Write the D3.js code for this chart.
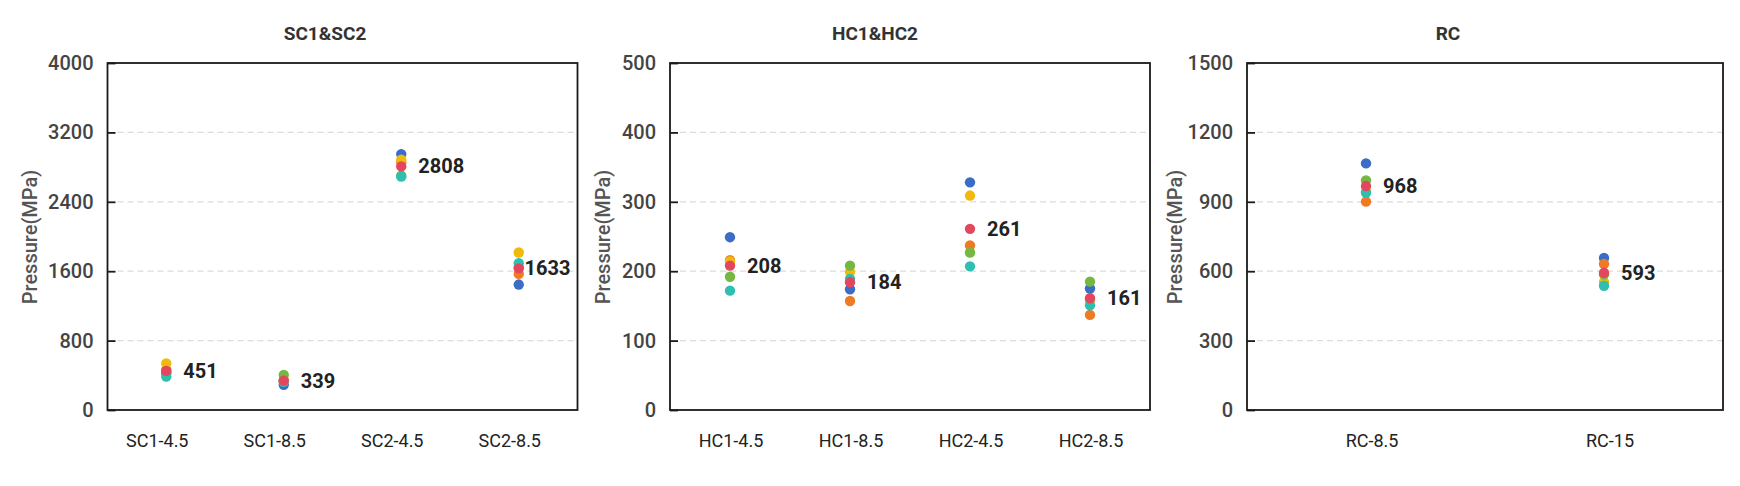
<!DOCTYPE html>
<html>
<head>
<meta charset="utf-8">
<script src="https://cdn.jsdelivr.net/npm/d3@7"></script>
<style>
  body { margin: 0; background: #fff; }
  svg { display: block; font-family: Roboto, "Noto Sans", sans-serif; }
</style>
</head>
<body>
<script>
// --- data ---
var scCategories = ['SC1-4.5', 'SC1-8.5', 'SC2-4.5', 'SC2-8.5'];
var scBlue   = [425, 290, 2950, 1446];
var scOrange = [465, 345, 2855, 1569];
var scYellow = [538, 330, 2885, 1815];
var scGreen  = [442, 404, 2700, 1643];
var scTeal   = [385, 326, 2690, 1692];
var scAvg    = [451, 339, 2808, 1633];
var scTicks  = [0, 800, 1600, 2400, 3200, 4000];

var hcCategories = ['HC1-4.5', 'HC1-8.5', 'HC2-4.5', 'HC2-8.5'];
var hcBlue   = [249, 174, 328, 175];
var hcOrange = [216, 157, 237, 137];
var hcYellow = [214, 199, 309, 158];
var hcGreen  = [192, 208, 227, 185];
var hcTeal   = [172, 189, 207, 151];
var hcAvg    = [208, 184, 261, 161];
var hcTicks  = [0, 100, 200, 300, 400, 500];

var rcCategories = ['RC-8.5', 'RC-15'];
var rcBlue   = [1066, 657];
var rcOrange = [901, 631];
var rcYellow = [945, 554];
var rcGreen  = [992, 586];
var rcTeal   = [939, 537];
var rcAvg    = [968, 593];
var rcTicks  = [0, 300, 600, 900, 1200, 1500];

var colors = ['#3b6dc7', '#ee7b23', '#f2b90d', '#74b741', '#2ebfb1'];
var avgColor = '#e2475d';

var panels = [
    { title: 'SC1&SC2', cats: scCategories, series: [scBlue, scOrange, scYellow, scGreen, scTeal], avg: scAvg, ticks: scTicks,
      left: 107.5, right: 577.5, titleX: 325, yTitleX: 30, labelDx: -9 },
    { title: 'HC1&HC2', cats: hcCategories, series: [hcBlue, hcOrange, hcYellow, hcGreen, hcTeal], avg: hcAvg, ticks: hcTicks,
      left: 670, right: 1150, titleX: 875, yTitleX: 603, labelDx: 1 },
    { title: 'RC', cats: rcCategories, series: [rcBlue, rcOrange, rcYellow, rcGreen, rcTeal], avg: rcAvg, ticks: rcTicks,
      left: 1247, right: 1723, titleX: 1448, yTitleX: 1175, labelDx: 6 }
];

var plotTop = 63, plotBottom = 410;

var svg = d3.select('body').append('svg').attr('width', 1740).attr('height', 486);

panels.forEach(function(p) {
    var x = d3.scaleBand().domain(p.cats).range([p.left, p.right]).padding(0);
    var y = d3.scaleLinear().domain([0, d3.max(p.ticks)]).range([plotBottom, plotTop]);
    var g = svg.append('g');

    // grid lines
    g.selectAll('line.grid')
        .data(p.ticks.slice(1, -1))
        .enter()
        .append('line')
        .attr('class', 'grid')
        .attr('x1', p.left + 10)
        .attr('x2', p.right)
        .attr('y1', function(d) { return y(d); })
        .attr('y2', function(d) { return y(d); })
        .attr('stroke', '#dcdcdc')
        .attr('stroke-width', 1.2)
        .attr('stroke-dasharray', '6,4');

    // y axis
    var yAxis = g.append('g')
        .attr('transform', 'translate(' + p.left + ',0)')
        .call(d3.axisLeft(y).tickValues(p.ticks).tickSize(-8).tickPadding(14).tickFormat(d3.format('d')));
    yAxis.select('.domain').remove();
    yAxis.selectAll('line').attr('stroke', '#1a1a1a').attr('stroke-width', 1.8);
    yAxis.selectAll('text')
        .attr('font-size', 20)
        .attr('font-weight', 500)
        .attr('fill', '#444')
        .attr('font-family', 'Roboto, sans-serif');

    // x axis labels
    var xAxis = g.append('g')
        .attr('transform', 'translate(0,' + plotBottom + ')')
        .call(d3.axisBottom(x).tickSize(0).tickPadding(0));
    xAxis.select('.domain').remove();
    xAxis.selectAll('text')
        .attr('x', p.labelDx)
        .attr('y', 31)
        .attr('dy', '0.35em')
        .attr('font-size', 18)
        .attr('fill', '#222')
        .attr('font-family', 'Roboto, sans-serif');

    // frame
    g.append('rect')
        .attr('x', p.left)
        .attr('y', plotTop)
        .attr('width', p.right - p.left)
        .attr('height', plotBottom - plotTop)
        .attr('fill', 'none')
        .attr('stroke', '#1a1a1a')
        .attr('stroke-width', 1.8);

    // points
    p.series.forEach(function(vals, i) {
        g.selectAll('circle.s' + i)
            .data(vals)
            .enter()
            .append('circle')
            .attr('class', 's' + i)
            .attr('cx', function(d, j) { return x(p.cats[j]) + x.bandwidth() / 2; })
            .attr('cy', function(d) { return y(d); })
            .attr('r', 5.2)
            .attr('fill', colors[i]);
    });
    g.selectAll('circle.avg')
        .data(p.avg)
        .enter()
        .append('circle')
        .attr('class', 'avg')
        .attr('cx', function(d, j) { return x(p.cats[j]) + x.bandwidth() / 2; })
        .attr('cy', function(d) { return y(d); })
        .attr('r', 5.2)
        .attr('fill', avgColor);

    // value labels
    g.selectAll('text.val')
        .data(p.avg)
        .enter()
        .append('text')
        .attr('class', 'val')
        .attr('y', function(d) { return y(d); })
        .attr('dy', '0.35em')
        .attr('font-size', 20)
        .attr('font-weight', 'bold')
        .attr('fill', '#222')
        .text(function(d) { return d; })
        .attr('x', function(d, j) {
            var cx = x(p.cats[j]) + x.bandwidth() / 2;
            var w = this.getComputedTextLength();
            var tx = cx + 17;
            if (tx + w > p.right - 7) tx = p.right - 7 - w;
            return tx;
        });

    // title
    g.append('text')
        .attr('x', p.titleX)
        .attr('y', 33)
        .attr('dy', '0.35em')
        .attr('text-anchor', 'middle')
        .attr('font-size', 19)
        .attr('font-weight', 'bold')
        .attr('fill', '#333')
        .text(p.title);

    // y axis title
    g.append('text')
        .attr('transform', 'translate(' + p.yTitleX + ',' + 237 + ') rotate(-90)')
        .attr('dy', '0.35em')
        .attr('text-anchor', 'middle')
        .attr('font-size', 20)
        .attr('font-weight', 500)
        .attr('fill', '#555')
        .text('Pressure(MPa)');
});
</script>
</body>
</html>
